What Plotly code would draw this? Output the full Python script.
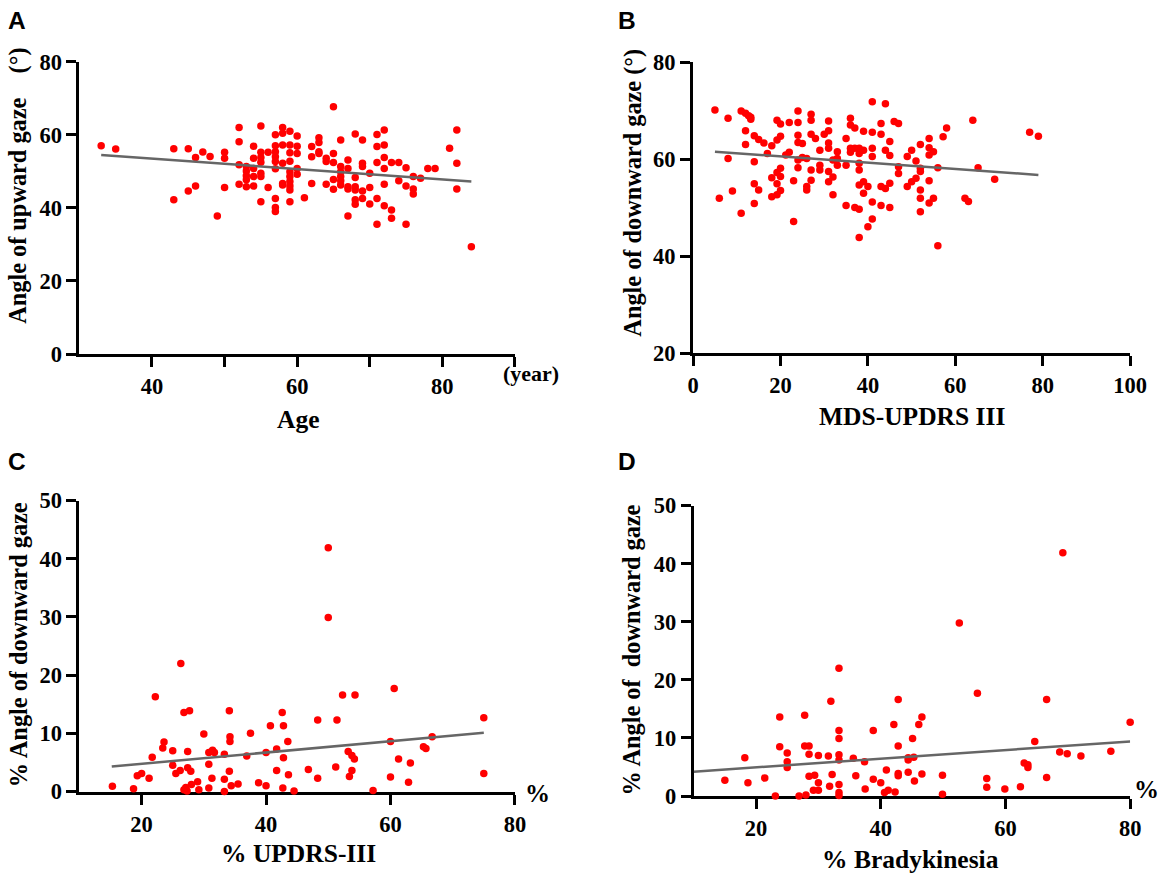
import plotly.graph_objects as go

# ---------------- Data ----------------
# Panel A: Age vs angle of upward gaze
A_age = [33, 35, 43, 43, 45, 45, 46, 46, 47, 48, 49, 50, 50, 50,
         52, 52, 52, 52, 53, 53, 53, 53, 53, 54, 54, 54, 54, 54,
         55, 55, 55, 55, 55, 55, 55, 56, 56,
         57, 57, 57, 57, 57, 57, 57, 57, 57,
         58, 58, 58, 58, 58, 58,
         59, 59, 59, 59, 59, 59, 59, 59, 59, 59,
         60, 60, 60, 60, 60, 61, 62, 62, 62, 63, 63, 63, 63,
         64, 64, 64, 65, 65, 65, 65, 65, 66, 66, 66, 66, 66, 66,
         67, 67, 67, 67, 67, 68, 68, 68, 68, 68, 68, 69, 69, 69, 69, 69,
         70, 70, 70, 71, 71, 71, 71, 71, 72, 72, 72, 72, 72, 72,
         73, 73, 73, 74, 74, 75, 75, 75, 76, 76, 76, 77, 78, 79,
         81, 82, 82, 82, 84]
A_up = [57.0, 56.1, 56.2, 42.2, 56.2, 44.6, 53.8, 46.0, 55.3, 54.1, 37.8, 55.2, 53.6, 45.6,
        62.0, 58.1, 51.8, 46.5, 51.3, 50.1, 48.8, 47.7, 45.8, 56.9, 53.6, 50.8, 48.6, 46.0,
        62.4, 55.2, 53.8, 52.5, 49.5, 48.6, 41.7, 55.2, 45.6,
        60.0, 57.0, 55.4, 54.0, 52.7, 50.7, 42.6, 40.1, 39.0,
        62.0, 60.4, 57.2, 52.2, 46.7, 46.3,
        61.0, 57.2, 55.1, 52.8, 49.9, 48.6, 47.2, 46.0, 44.9, 41.7,
        59.7, 56.9, 54.9, 50.8, 49.2, 42.8, 56.8, 54.0, 46.7, 59.2, 57.9, 55.4, 54.9,
        53.6, 52.7, 46.5, 67.7, 54.9, 52.4, 47.8, 45.1, 58.6, 51.3, 49.9, 48.6, 47.4, 46.3,
        53.1, 50.8, 45.8, 45.2, 37.8, 60.2, 48.3, 45.8, 44.9, 42.2, 41.0, 58.6, 52.2, 51.3, 44.6, 42.6,
        49.5, 45.6, 41.1, 60.1, 56.8, 52.4, 42.6, 35.5, 61.3, 57.2, 53.8, 50.8, 46.5, 40.6,
        52.4, 39.4, 37.2, 52.4, 47.4, 51.0, 46.0, 35.5, 48.6, 45.2, 43.8, 48.1, 50.8, 50.8,
        56.3, 61.3, 52.2, 45.2, 29.4]
A_fit_x = [33, 84]
A_fit_y = [54.5, 47.2]

# Panel B: MDS-UPDRS III vs angle of downward gaze
B_updrs = [5, 6, 8, 8, 9, 11, 11, 12, 12, 12, 12.7, 13.2, 13.2, 14, 14, 14, 14, 15, 15, 16.2, 17,
           18, 18, 18, 19.2, 19.2, 19.2, 19.2, 19.2, 20, 20, 20, 20, 20, 21.2, 22, 22, 23, 23,
           24, 24, 24, 24, 24, 24, 25, 25, 26, 26, 26, 27, 27, 27, 27, 27, 28, 29, 29, 29, 30,
           31, 31, 31, 31, 31, 31, 32, 32, 32, 33, 33, 33, 35, 35, 35, 36, 36, 36, 36, 37, 37, 37,
           38, 38, 38, 38, 38, 38, 38, 39, 39, 39, 39, 40, 40, 41, 41, 41, 41, 41, 41,
           43, 43, 43, 43, 44, 44, 44, 45, 45, 45, 45, 46, 47, 47, 47, 49, 49, 50, 50, 51, 51,
           52, 52, 52, 52, 52, 52, 54, 54, 54, 54, 54, 55, 55, 56, 56, 57.2, 58, 62.2, 63, 64, 65.2,
           69, 77, 79]
B_down = [70.2, 52.0, 68.5, 60.2, 53.5, 70.0, 48.9, 69.5, 65.9, 63.1, 69.0, 68.7, 68.3, 64.9, 59.5, 55.0, 50.9,
          64.1, 53.7, 63.4, 61.2, 62.8, 56.2, 52.3, 68.1, 64.0, 57.3, 55.0, 52.7, 67.3, 64.8, 58.2, 56.5, 53.6,
          60.9, 67.6, 61.5, 55.6, 47.2, 70.0, 67.6, 65.0, 63.5, 59.9, 58.3, 63.3, 60.4, 60.2, 54.4, 53.7,
          69.3, 68.1, 65.2, 57.8, 55.7, 64.3, 61.9, 58.8, 57.8, 65.2, 67.9, 65.9, 63.4, 62.3, 57.5, 55.4,
          59.9, 56.4, 52.7, 61.6, 60.2, 58.8, 64.3, 58.8, 50.5, 68.5, 67.1, 62.3, 61.5, 66.5, 62.3, 50.1,
          62.3, 61.2, 59.2, 57.8, 54.7, 49.7, 43.9, 65.8, 61.9, 55.4, 53.0, 54.4, 46.1, 71.9, 65.6, 62.3,
          60.6, 51.2, 47.7, 65.2, 67.4, 54.4, 50.5, 71.5, 61.9, 54.0, 63.7, 60.8, 55.1, 50.1, 67.8, 67.4,
          58.5, 57.1, 60.6, 54.4, 61.9, 55.4, 59.7, 56.1, 63.1, 58.2, 57.5, 53.7, 52.0, 49.2, 64.3, 62.4,
          60.9, 55.6, 51.0, 61.6, 52.0, 58.3, 42.2, 64.7, 66.5, 52.0, 51.3, 68.1, 58.3, 55.9, 65.6, 64.8]
B_fit_x = [5, 79]
B_fit_y = [61.6, 56.8]

# Panel C: % UPDRS-III vs % angle of downward gaze
C_updrs = [15.3, 18.7, 19.3, 20, 21.2, 21.7, 22.2, 23.4, 23.6, 25, 25, 25.5, 26.2, 26.3, 26.8, 26.8,
           27.1, 27.3, 27.4, 27.4, 27.7, 27.9, 28, 29, 29.2, 30, 30.8, 30.8, 30.8, 31.3, 31.4, 31.7,
           33.3, 33.3, 33.3, 34.1, 34.2, 34.2, 34.1, 34.4, 35.5, 36.9, 37.5, 38.8, 40, 40, 40.7,
           41.7, 41.7, 42.6, 42.7, 42.8, 42.8, 43.5, 43.6, 44.5, 46.8, 48.3, 48.3, 50, 50, 51.2,
           51.4, 52.3, 53.2, 53.4, 53.8, 53.8, 54.2, 54.3, 57.2, 60, 60, 60.6, 61.3, 62.9, 63.2,
           65.3, 65.7, 66.7, 75, 75]
C_down = [0.9, 0.5, 2.7, 3.1, 2.3, 5.9, 16.3, 7.5, 8.5, 7.0, 4.5, 3.1, 3.6, 22.0, 13.6, 0.3,
          0.7, 0.1, 6.9, 4.1, 13.9, 3.5, 1.2, 1.7, 0.3, 9.9, 6.7, 4.7, 0.6, 2.3, 7.1, 6.7,
          6.4, 2.1, 0.0, 13.9, 9.4, 8.6, 3.5, 1.0, 1.3, 6.1, 10.0, 1.5, 6.7, 1.0, 11.3,
          7.3, 3.6, 13.6, 0.6, 11.3, 5.8, 8.6, 2.9, 0.1, 3.8, 12.3, 2.3, 41.9, 29.9, 4.2,
          12.3, 16.6, 6.9, 2.6, 6.2, 3.6, 5.6, 16.6, 0.2, 8.6, 2.5, 17.7, 5.6, 1.6, 4.9,
          7.7, 7.4, 9.4, 12.7, 3.1]
C_fit_x = [15.2, 75]
C_fit_y = [4.3, 10.1]

# Panel D: % Bradykinesia vs % angle of downward gaze
D_brady = [15, 18.2, 18.7, 21.4, 23.1, 23.8, 23.8, 25, 25, 25, 26.9, 27.8, 27.8, 28, 28.5, 28.5,
           28.5, 29.2, 29.4, 30, 30, 30, 31.6, 31.8, 32, 32.2, 33.3, 33.3, 33.3, 33.3, 33.3, 33.3,
           33.3, 33.3, 35.6, 36, 37.4, 37.5, 38.8, 38.8, 40, 40.6, 40.9, 41.2, 42.1, 42.3, 42.8,
           42.8, 42.8, 42.8, 44.4, 44.4, 44.4, 45.1, 45.3, 45.4, 46.1, 46.6, 46.6, 49.9, 49.9,
           52.6, 55.5, 57, 57, 59.9, 62.4, 63, 63.6, 63.6, 64.7, 66.6, 66.6, 68.7, 69.2, 69.9,
           72.1, 76.9, 80]
D_down = [2.7, 6.6, 2.3, 3.1, 0.0, 13.6, 8.5, 7.4, 5.9, 4.9, 0.0, 13.9, 8.6, 0.2, 8.6, 7.2,
          3.4, 1.0, 3.6, 7.0, 2.3, 1.0, 6.9, 1.7, 16.3, 3.7, 22.0, 11.3, 9.9, 7.1, 6.2, 2.0,
          0.6, 0.1, 6.5, 3.5, 5.9, 1.2, 11.3, 2.9, 2.3, 0.6, 4.5, 1.0, 12.3, 0.7, 16.6,
          8.6, 3.9, 3.5, 6.6, 6.2, 4.1, 9.9, 6.7, 2.6, 12.3, 13.6, 3.8, 3.6, 0.3,
          29.8, 17.7, 3.0, 1.5, 1.2, 1.6, 5.7, 5.4, 4.9, 9.4, 16.6, 3.2, 7.6, 41.9, 7.3,
          6.9, 7.7, 12.7]
D_fit_x = [10, 80]
D_fit_y = [4.2, 9.4]

# ---------------- Figure ----------------
W, H = 1170, 887
SERIF = "Liberation Serif"
SANS = "Liberation Sans"
RED = "#ff0000"
GRAY = "#666666"

# the photographed page shows the figure slightly reduced; positions below are
# given in target-image pixels and mapped back to figure pixels
SX, BX = 0.9815, 4.5
SY, BY = 0.973, 13.5


def fx(p):
    return ((p - BX) / SX) / W


def fy(p):
    return 1 - ((p - BY) / SY) / H


fig = go.Figure()

panels = [
    ("x", "y", A_age, A_up, A_fit_x, A_fit_y),
    ("x2", "y2", B_updrs, B_down, B_fit_x, B_fit_y),
    ("x3", "y3", C_updrs, C_down, C_fit_x, C_fit_y),
    ("x4", "y4", D_brady, D_down, D_fit_x, D_fit_y),
]
for xa, ya, xs, ys, fxs, fys in panels:
    fig.add_trace(go.Scatter(x=xs, y=ys, mode="markers", xaxis=xa, yaxis=ya,
                             marker=dict(color=RED, size=7.5, line=dict(width=0)),
                             cliponaxis=False, showlegend=False, hoverinfo="skip"))
    fig.add_trace(go.Scatter(x=fxs, y=fys, mode="lines", xaxis=xa, yaxis=ya,
                             line=dict(color=GRAY, width=2.5),
                             cliponaxis=False, showlegend=False, hoverinfo="skip"))

tickfont = dict(family=SERIF, size=22.5, color="black", weight="bold")
common = dict(showgrid=False, zeroline=False, showline=True, linewidth=3,
              linecolor="black", ticks="outside", ticklen=10, tickwidth=2.5,
              tickcolor="black", tickfont=tickfont, layer="below traces",
              fixedrange=True)

fig.update_layout(
    width=W, height=H,
    margin=dict(l=0, r=0, t=0, b=0),
    paper_bgcolor="white", plot_bgcolor="white",
    showlegend=False,
    xaxis=dict(domain=[fx(78), fx(514)], range=[30, 90], anchor="y",
               tickvals=[40, 50, 60, 70, 80, 90], ticktext=["40", "", "60", "", "80", ""], **common),
    yaxis=dict(domain=[fy(356), fy(63.3)], range=[0, 80], anchor="x",
               tickvals=[0, 20, 40, 60, 80], **common),
    xaxis2=dict(domain=[fx(692.4), fx(1130)], range=[0, 100], anchor="y2",
                tickvals=[0, 20, 40, 60, 80, 100], **common),
    yaxis2=dict(domain=[fy(355.3), fy(64)], range=[20, 80], anchor="x2",
                tickvals=[20, 40, 60, 80], **common),
    xaxis3=dict(domain=[fx(78), fx(514)], range=[10, 80], anchor="y3",
                tickvals=[20, 40, 60, 80], **common),
    yaxis3=dict(domain=[fy(794), fy(502.7)], range=[0, 50], anchor="x3",
                tickvals=[0, 10, 20, 30, 40, 50], **common),
    xaxis4=dict(domain=[fx(693), fx(1130)], range=[10, 80], anchor="y4",
                tickvals=[20, 40, 60, 80], **common),
    yaxis4=dict(domain=[fy(798.5), fy(507.7)], range=[0, 50], anchor="x4",
                tickvals=[0, 10, 20, 30, 40, 50], **common),
)

xtitlefont = dict(family=SERIF, size=25.5, color="black", weight="bold")
ytitlefont = dict(family=SERIF, size=24.3, color="black", weight="bold")
letterfont = dict(family=SANS, size=24.5, color="black", weight="bold")
unitfont = dict(family=SERIF, size=22, color="black", weight="bold")
pctfont = dict(family=SERIF, size=25, color="black", weight="bold")
NB = "\u00a0"

texts = [
    # panel letters
    ("A", 15.8, 22, 0, letterfont),
    ("B", 626, 22, 0, letterfont),
    ("C", 15.8, 464, 0, letterfont),
    ("D", 626, 464, 0, letterfont),
    # y titles
    ("Angle of upward gaze" + NB * 4 + "(°)", 17, 187, -90, ytitlefont),
    ("Angle of downward gaze (°)", 632.6, 194, -90, ytitlefont),
    ("% Angle of downward gaze", 17, 647, -90, ytitlefont),
    ("% Angle of" + NB + NB + "downward gaze", 631, 652, -90, ytitlefont),
    # x titles
    ("Age", 297, 421, 0, xtitlefont),
    ("MDS-UPDRS III", 911.6, 418, 0, xtitlefont),
    ("% UPDRS-III", 297, 856, 0, xtitlefont),
    ("% Bradykinesia", 909.7, 862, 0, xtitlefont),
    # unit labels
    ("(year)", 530, 375, 0, unitfont),
    ("%", 537, 796, 0, pctfont),
    ("%", 1146, 792, 0, pctfont),
]
for t, x, y, ang, f in texts:
    fig.add_annotation(text=t, x=fx(x), y=fy(y), xref="paper", yref="paper",
                       xanchor="center", yanchor="middle", textangle=ang,
                       showarrow=False, font=f)

fig.write_html(
    "out.html",
    config={"displayModeBar": False},
    post_script="document.documentElement.style.margin='0';"
                "document.body.style.margin='0';"
                "document.body.style.overflow='hidden';"
                "document.documentElement.style.overflow='hidden';",
)
